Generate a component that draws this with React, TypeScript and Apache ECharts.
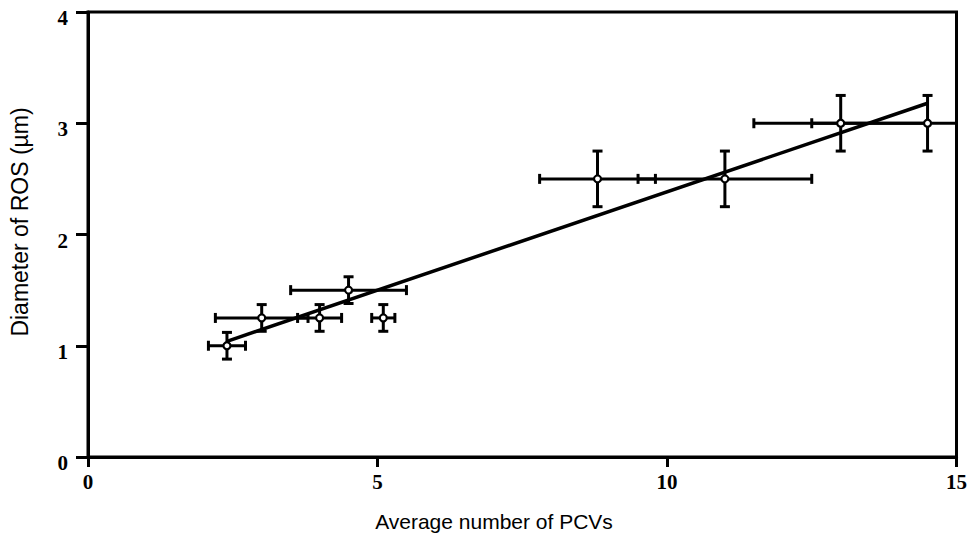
import React, { useEffect, useRef } from "react";
import * as echarts from "echarts";

// Data
const xValues = [2.4, 3.0, 4.0, 4.5, 5.1, 8.8, 11.0, 13.0, 14.5];
const yValues = [1.0, 1.25, 1.25, 1.5, 1.25, 2.5, 2.5, 3.0, 3.0];
const xErrors = [0.32, 0.8, 0.38, 1.0, 0.2, 1.0, 1.5, 1.5, 2.0];
const yErrors = [0.12, 0.12, 0.12, 0.12, 0.12, 0.25, 0.25, 0.25, 0.25];
const fitX = [2.4, 14.5];
const fitY = [1.04, 3.18];
const xTicks = [0, 5, 10, 15];
const yTicks = [0, 1, 2, 3, 4];

const X_MIN = 0;
const X_MAX = 15;

export default function App() {
  const ref = useRef<HTMLDivElement>(null);

  useEffect(() => {
    if (!ref.current) return;
    const chart = echarts.init(ref.current, null, { renderer: "svg" });

    const points = xValues.map((x, i) => [x, yValues[i]]);
    const errData = xValues.map((x, i) => [x, yValues[i], xErrors[i], yErrors[i]]);
    const fitData = fitX.map((x, i) => [x, fitY[i]]);

    const tickFont = {
      fontFamily: "Liberation Serif",
      fontSize: 21,
      fontWeight: "bold" as const,
      color: "#000",
    };

    chart.setOption({
      animation: false,
      backgroundColor: "#fff",
      grid: {
        left: 88,
        right: 12,
        top: 12,
        bottom: 80,
        show: true,
        borderColor: "#000",
        borderWidth: 3,
      },
      xAxis: {
        type: "value",
        min: X_MIN,
        max: X_MAX,
        interval: 5,
        axisLine: { show: true, lineStyle: { color: "#000", width: 3 } },
        axisTick: { show: true, inside: false, length: 10, lineStyle: { color: "#000", width: 3 } },
        axisLabel: {
          ...tickFont,
          margin: 14,
          formatter: (v: number) => (xTicks.includes(v) ? String(v) : ""),
        },
        splitLine: { show: false },
      },
      yAxis: {
        type: "value",
        min: 0,
        max: 4,
        interval: 1,
        axisLine: { show: true, lineStyle: { color: "#000", width: 3 } },
        axisTick: { show: true, inside: false, length: 12, lineStyle: { color: "#000", width: 3 } },
        axisLabel: {
          ...tickFont,
          margin: 20,
          verticalAlign: "top",
          lineHeight: 12,
          formatter: (v: number) => (yTicks.includes(v) ? String(v) : ""),
        },
        splitLine: { show: false },
      },
      graphic: [
        {
          type: "text",
          x: 494,
          y: 521,
          style: {
            text: "Average number of PCVs",
            font: "21px 'Liberation Sans'",
            fill: "#000",
            align: "center",
            verticalAlign: "middle",
          },
        },
        {
          type: "text",
          x: 20,
          y: 222,
          rotation: Math.PI / 2,
          style: {
            text: "Diameter of ROS (µm)",
            font: "23px 'Liberation Sans'",
            fill: "#000",
            align: "center",
            verticalAlign: "middle",
          },
        },
      ],
      series: [
        {
          type: "custom",
          z: 2,
          data: errData,
          renderItem: (params: any, api: any) => {
            const x = api.value(0);
            const y = api.value(1);
            const ex = api.value(2);
            const ey = api.value(3);
            const lo = Math.max(x - ex, X_MIN);
            const hi = Math.min(x + ex, X_MAX);
            const pL = api.coord([lo, y]);
            const pR = api.coord([hi, y]);
            const pT = api.coord([x, y + ey]);
            const pB = api.coord([x, y - ey]);
            const cap = 5;
            const style = { stroke: "#000", lineWidth: 3 };
            const children: any[] = [
              { type: "line", shape: { x1: pL[0], y1: pL[1], x2: pR[0], y2: pR[1] }, style },
              { type: "line", shape: { x1: pT[0], y1: pT[1], x2: pB[0], y2: pB[1] }, style },
              { type: "line", shape: { x1: pT[0] - cap, y1: pT[1], x2: pT[0] + cap, y2: pT[1] }, style },
              { type: "line", shape: { x1: pB[0] - cap, y1: pB[1], x2: pB[0] + cap, y2: pB[1] }, style },
            ];
            if (x - ex >= X_MIN) {
              children.push({ type: "line", shape: { x1: pL[0], y1: pL[1] - cap, x2: pL[0], y2: pL[1] + cap }, style });
            }
            if (x + ex <= X_MAX) {
              children.push({ type: "line", shape: { x1: pR[0], y1: pR[1] - cap, x2: pR[0], y2: pR[1] + cap }, style });
            }
            return { type: "group", children };
          },
        },
        {
          type: "line",
          z: 3,
          data: fitData,
          showSymbol: false,
          lineStyle: { color: "#000", width: 3.5 },
        },
        {
          type: "scatter",
          z: 4,
          data: points,
          symbol: "circle",
          symbolSize: 7,
          itemStyle: { color: "#fff", borderColor: "#000", borderWidth: 2.2, opacity: 1 },
        },
      ],
    });

    return () => chart.dispose();
  }, []);

  return <div ref={ref} style={{ width: 970, height: 537, position: "absolute", left: 0, top: 0 }} />;
}
